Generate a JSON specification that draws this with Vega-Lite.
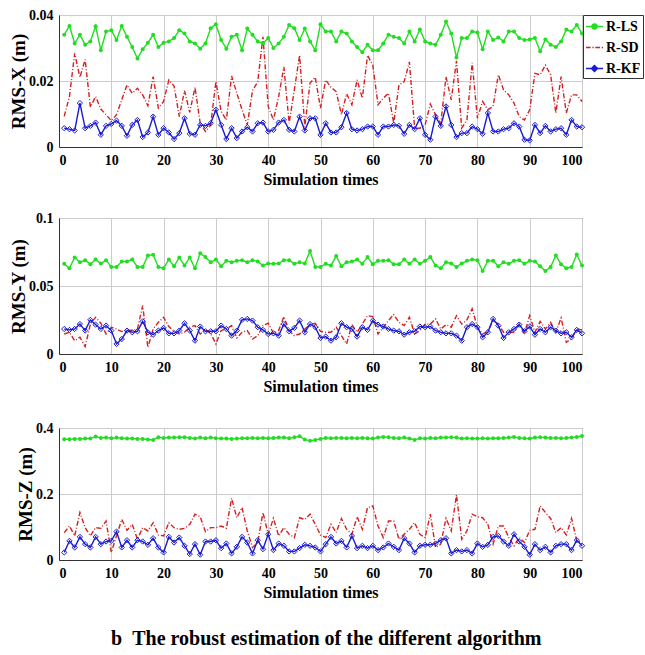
{
  "$schema": "https://vega.github.io/schema/vega-lite/v6.json",
  "padding": {"left": 9, "top": 7, "right": 2, "bottom": 5},
  "background": "white",
  "spacing": 22,
  "title": {"text": "b\u00a0\u00a0The robust estimation of the different algorithm", "orient": "bottom", "anchor": "middle", "font": "Liberation Serif", "fontWeight": "bold", "fontSize": 20, "color": "black", "offset": 28},
  "config": {
    "font": "Liberation Serif",
    "view": {"stroke": "#333333", "strokeWidth": 1},
    "axis": {"labelFont": "Liberation Serif", "labelFontWeight": "bold", "labelFontSize": 14, "labelColor": "black", "titleFont": "Liberation Serif", "titleFontWeight": "bold", "titleFontSize": 16, "titleColor": "black", "gridColor": "#cccccc", "gridWidth": 1, "domainColor": "#333333", "ticks": false, "labelPadding": 6},
    "axisY": {"titleFontSize": 19, "titlePadding": 0}
  },
  "datasets": {
    "X": [
      {"t":1,"R-LS":0.034,"R-SD":0.0093,"R-KF":0.0057},{"t":2,"R-LS":0.0367,"R-SD":0.0153,"R-KF":0.0054},{"t":3,"R-LS":0.0314,"R-SD":0.0284,"R-KF":0.005},{"t":4,"R-LS":0.034,"R-SD":0.0211,"R-KF":0.0133},{"t":5,"R-LS":0.031,"R-SD":0.0265,"R-KF":0.0057},
      {"t":6,"R-LS":0.032,"R-SD":0.0121,"R-KF":0.0064},{"t":7,"R-LS":0.0366,"R-SD":0.0153,"R-KF":0.0074},{"t":8,"R-LS":0.0293,"R-SD":0.0115,"R-KF":0.0037},{"t":9,"R-LS":0.035,"R-SD":0.0098,"R-KF":0.0064},{"t":10,"R-LS":0.0354,"R-SD":0.008,"R-KF":0.007},
      {"t":11,"R-LS":0.0324,"R-SD":0.0098,"R-KF":0.008},{"t":12,"R-LS":0.0367,"R-SD":0.0143,"R-KF":0.0064},{"t":13,"R-LS":0.0334,"R-SD":0.0188,"R-KF":0.0034},{"t":14,"R-LS":0.0303,"R-SD":0.0163,"R-KF":0.0067},{"t":15,"R-LS":0.0268,"R-SD":0.0178,"R-KF":0.0082},
      {"t":16,"R-LS":0.0296,"R-SD":0.0158,"R-KF":0.003},{"t":17,"R-LS":0.0316,"R-SD":0.0125,"R-KF":0.0044},{"t":18,"R-LS":0.034,"R-SD":0.0213,"R-KF":0.0092},{"t":19,"R-LS":0.0303,"R-SD":0.0118,"R-KF":0.0037},{"t":20,"R-LS":0.0316,"R-SD":0.0138,"R-KF":0.0057},
      {"t":21,"R-LS":0.032,"R-SD":0.0203,"R-KF":0.0044},{"t":22,"R-LS":0.033,"R-SD":0.0185,"R-KF":0.0024},{"t":23,"R-LS":0.0354,"R-SD":0.0092,"R-KF":0.0042},{"t":24,"R-LS":0.0344,"R-SD":0.0171,"R-KF":0.0087},{"t":25,"R-LS":0.032,"R-SD":0.0105,"R-KF":0.004},
      {"t":26,"R-LS":0.0314,"R-SD":0.0181,"R-KF":0.0037},{"t":27,"R-LS":0.0298,"R-SD":0.0072,"R-KF":0.0067},{"t":28,"R-LS":0.0314,"R-SD":0.0047,"R-KF":0.0064},{"t":29,"R-LS":0.036,"R-SD":0.0067,"R-KF":0.0072},{"t":30,"R-LS":0.0372,"R-SD":0.0198,"R-KF":0.0113},
      {"t":31,"R-LS":0.0324,"R-SD":0.0108,"R-KF":0.0067},{"t":32,"R-LS":0.0298,"R-SD":0.0082,"R-KF":0.0024},{"t":33,"R-LS":0.0334,"R-SD":0.0215,"R-KF":0.0057},{"t":34,"R-LS":0.034,"R-SD":0.0163,"R-KF":0.0027},{"t":35,"R-LS":0.0293,"R-SD":0.0113,"R-KF":0.0047},
      {"t":36,"R-LS":0.0359,"R-SD":0.0067,"R-KF":0.006},{"t":37,"R-LS":0.034,"R-SD":0.0171,"R-KF":0.0047},{"t":38,"R-LS":0.032,"R-SD":0.0198,"R-KF":0.0072},{"t":39,"R-LS":0.0314,"R-SD":0.0334,"R-KF":0.0074},{"t":40,"R-LS":0.033,"R-SD":0.0123,"R-KF":0.0047},
      {"t":41,"R-LS":0.030,"R-SD":0.0082,"R-KF":0.0052},{"t":42,"R-LS":0.0314,"R-SD":0.0153,"R-KF":0.0074},{"t":43,"R-LS":0.0334,"R-SD":0.0243,"R-KF":0.0082},{"t":44,"R-LS":0.037,"R-SD":0.0072,"R-KF":0.0052},{"t":45,"R-LS":0.036,"R-SD":0.0173,"R-KF":0.0047},
      {"t":46,"R-LS":0.0324,"R-SD":0.0278,"R-KF":0.0092},{"t":47,"R-LS":0.0359,"R-SD":0.0062,"R-KF":0.005},{"t":48,"R-LS":0.032,"R-SD":0.0194,"R-KF":0.0087},{"t":49,"R-LS":0.0293,"R-SD":0.0211,"R-KF":0.0087},{"t":50,"R-LS":0.0372,"R-SD":0.0118,"R-KF":0.0037},
      {"t":51,"R-LS":0.035,"R-SD":0.0203,"R-KF":0.0072},{"t":52,"R-LS":0.035,"R-SD":0.0181,"R-KF":0.0044},{"t":53,"R-LS":0.032,"R-SD":0.0168,"R-KF":0.0044},{"t":54,"R-LS":0.035,"R-SD":0.0098,"R-KF":0.006},{"t":55,"R-LS":0.0344,"R-SD":0.0161,"R-KF":0.0103},
      {"t":56,"R-LS":0.032,"R-SD":0.0128,"R-KF":0.0054},{"t":57,"R-LS":0.0303,"R-SD":0.0203,"R-KF":0.005},{"t":58,"R-LS":0.0287,"R-SD":0.0148,"R-KF":0.0054},{"t":59,"R-LS":0.031,"R-SD":0.0278,"R-KF":0.0062},{"t":60,"R-LS":0.0293,"R-SD":0.0248,"R-KF":0.0062},
      {"t":61,"R-LS":0.0293,"R-SD":0.0128,"R-KF":0.0037},{"t":62,"R-LS":0.0314,"R-SD":0.0148,"R-KF":0.0062},{"t":63,"R-LS":0.034,"R-SD":0.0163,"R-KF":0.0062},{"t":64,"R-LS":0.0334,"R-SD":0.0072,"R-KF":0.0067},{"t":65,"R-LS":0.033,"R-SD":0.0188,"R-KF":0.0064},
      {"t":66,"R-LS":0.0314,"R-SD":0.0198,"R-KF":0.004},{"t":67,"R-LS":0.035,"R-SD":0.0258,"R-KF":0.0067},{"t":68,"R-LS":0.032,"R-SD":0.0057,"R-KF":0.0054},{"t":69,"R-LS":0.0356,"R-SD":0.0057,"R-KF":0.0087},{"t":70,"R-LS":0.032,"R-SD":0.0067,"R-KF":0.0037},
      {"t":71,"R-LS":0.0314,"R-SD":0.013,"R-KF":0.0022},{"t":72,"R-LS":0.031,"R-SD":0.0098,"R-KF":0.0092},{"t":73,"R-LS":0.034,"R-SD":0.0072,"R-KF":0.0064},{"t":74,"R-LS":0.038,"R-SD":0.0213,"R-KF":0.0123},{"t":75,"R-LS":0.0344,"R-SD":0.0143,"R-KF":0.0067},
      {"t":76,"R-LS":0.0271,"R-SD":0.0261,"R-KF":0.003},{"t":77,"R-LS":0.033,"R-SD":0.0057,"R-KF":0.0042},{"t":78,"R-LS":0.033,"R-SD":0.0082,"R-KF":0.0042},{"t":79,"R-LS":0.035,"R-SD":0.0255,"R-KF":0.0062},{"t":80,"R-LS":0.0347,"R-SD":0.0087,"R-KF":0.0054},
      {"t":81,"R-LS":0.0296,"R-SD":0.0138,"R-KF":0.004},{"t":82,"R-LS":0.035,"R-SD":0.0113,"R-KF":0.0103},{"t":83,"R-LS":0.0324,"R-SD":0.0123,"R-KF":0.0047},{"t":84,"R-LS":0.0332,"R-SD":0.0219,"R-KF":0.0047},{"t":85,"R-LS":0.032,"R-SD":0.0173,"R-KF":0.0054},
      {"t":86,"R-LS":0.035,"R-SD":0.0158,"R-KF":0.0057},{"t":87,"R-LS":0.035,"R-SD":0.0133,"R-KF":0.0072},{"t":88,"R-LS":0.033,"R-SD":0.0092,"R-KF":0.0062},{"t":89,"R-LS":0.0324,"R-SD":0.0082,"R-KF":0.0022},{"t":90,"R-LS":0.0326,"R-SD":0.0113,"R-KF":0.002},
      {"t":91,"R-LS":0.033,"R-SD":0.0223,"R-KF":0.0067},{"t":92,"R-LS":0.029,"R-SD":0.0219,"R-KF":0.0042},{"t":93,"R-LS":0.0326,"R-SD":0.0248,"R-KF":0.0064},{"t":94,"R-LS":0.031,"R-SD":0.0219,"R-KF":0.0047},{"t":95,"R-LS":0.0303,"R-SD":0.0103,"R-KF":0.0054},
      {"t":96,"R-LS":0.032,"R-SD":0.0213,"R-KF":0.0057},{"t":97,"R-LS":0.0356,"R-SD":0.0103,"R-KF":0.0037},{"t":98,"R-LS":0.035,"R-SD":0.0158,"R-KF":0.0082},{"t":99,"R-LS":0.037,"R-SD":0.0158,"R-KF":0.0062},{"t":100,"R-LS":0.0344,"R-SD":0.0138,"R-KF":0.006}
    ],
    "Y": [
      {"t":1,"R-LS":0.0663,"R-SD":0.0147,"R-KF":0.0184},{"t":2,"R-LS":0.063,"R-SD":0.016,"R-KF":0.0177},{"t":3,"R-LS":0.071,"R-SD":0.0098,"R-KF":0.0184},{"t":4,"R-LS":0.0675,"R-SD":0.0123,"R-KF":0.022},{"t":5,"R-LS":0.069,"R-SD":0.0054,"R-KF":0.0172},
      {"t":6,"R-LS":0.066,"R-SD":0.022,"R-KF":0.0251},{"t":7,"R-LS":0.0695,"R-SD":0.027,"R-KF":0.0216},{"t":8,"R-LS":0.0665,"R-SD":0.0226,"R-KF":0.0184},{"t":9,"R-LS":0.069,"R-SD":0.0147,"R-KF":0.0209},{"t":10,"R-LS":0.064,"R-SD":0.0197,"R-KF":0.0172},
      {"t":11,"R-LS":0.064,"R-SD":0.0184,"R-KF":0.0074},{"t":12,"R-LS":0.068,"R-SD":0.0165,"R-KF":0.011},{"t":13,"R-LS":0.068,"R-SD":0.0177,"R-KF":0.0172},{"t":14,"R-LS":0.0695,"R-SD":0.0172,"R-KF":0.016},{"t":15,"R-LS":0.064,"R-SD":0.0184,"R-KF":0.0167},
      {"t":16,"R-LS":0.064,"R-SD":0.0356,"R-KF":0.024},{"t":17,"R-LS":0.0725,"R-SD":0.0049,"R-KF":0.016},{"t":18,"R-LS":0.073,"R-SD":0.0184,"R-KF":0.0142},{"t":19,"R-LS":0.064,"R-SD":0.0233,"R-KF":0.0172},{"t":20,"R-LS":0.063,"R-SD":0.027,"R-KF":0.0192},
      {"t":21,"R-LS":0.0695,"R-SD":0.0202,"R-KF":0.0152},{"t":22,"R-LS":0.0645,"R-SD":0.0167,"R-KF":0.0152},{"t":23,"R-LS":0.071,"R-SD":0.0147,"R-KF":0.0172},{"t":24,"R-LS":0.065,"R-SD":0.016,"R-KF":0.0226},{"t":25,"R-LS":0.071,"R-SD":0.0197,"R-KF":0.0172},
      {"t":26,"R-LS":0.063,"R-SD":0.0209,"R-KF":0.0098},{"t":27,"R-LS":0.074,"R-SD":0.0147,"R-KF":0.0202},{"t":28,"R-LS":0.0713,"R-SD":0.0177,"R-KF":0.0167},{"t":29,"R-LS":0.0675,"R-SD":0.0152,"R-KF":0.0167},{"t":30,"R-LS":0.0695,"R-SD":0.0074,"R-KF":0.0167},
      {"t":31,"R-LS":0.0645,"R-SD":0.0172,"R-KF":0.0209},{"t":32,"R-LS":0.0685,"R-SD":0.0184,"R-KF":0.0184},{"t":33,"R-LS":0.0675,"R-SD":0.0209,"R-KF":0.0135},{"t":34,"R-LS":0.0685,"R-SD":0.0118,"R-KF":0.0172},{"t":35,"R-LS":0.069,"R-SD":0.016,"R-KF":0.0251},
      {"t":36,"R-LS":0.0675,"R-SD":0.0172,"R-KF":0.0258},{"t":37,"R-LS":0.069,"R-SD":0.011,"R-KF":0.0246},{"t":38,"R-LS":0.068,"R-SD":0.0135,"R-KF":0.0197},{"t":39,"R-LS":0.065,"R-SD":0.0209,"R-KF":0.0177},{"t":40,"R-LS":0.0665,"R-SD":0.0226,"R-KF":0.0147},
      {"t":41,"R-LS":0.0663,"R-SD":0.0152,"R-KF":0.0152},{"t":42,"R-LS":0.0665,"R-SD":0.0172,"R-KF":0.0135},{"t":43,"R-LS":0.069,"R-SD":0.0275,"R-KF":0.022},{"t":44,"R-LS":0.069,"R-SD":0.0172,"R-KF":0.0167},{"t":45,"R-LS":0.0663,"R-SD":0.0135,"R-KF":0.0192},
      {"t":46,"R-LS":0.0675,"R-SD":0.0147,"R-KF":0.0246},{"t":47,"R-LS":0.0665,"R-SD":0.0184,"R-KF":0.016},{"t":48,"R-LS":0.0757,"R-SD":0.0216,"R-KF":0.022},{"t":49,"R-LS":0.064,"R-SD":0.0226,"R-KF":0.0197},{"t":50,"R-LS":0.064,"R-SD":0.0167,"R-KF":0.0118},
      {"t":51,"R-LS":0.0663,"R-SD":0.016,"R-KF":0.0128},{"t":52,"R-LS":0.065,"R-SD":0.016,"R-KF":0.0098},{"t":53,"R-LS":0.072,"R-SD":0.0197,"R-KF":0.0123},{"t":54,"R-LS":0.0645,"R-SD":0.0135,"R-KF":0.0226},{"t":55,"R-LS":0.0675,"R-SD":0.0074,"R-KF":0.0197},
      {"t":56,"R-LS":0.068,"R-SD":0.0216,"R-KF":0.0184},{"t":57,"R-LS":0.0695,"R-SD":0.016,"R-KF":0.0128},{"t":58,"R-LS":0.0663,"R-SD":0.022,"R-KF":0.0197},{"t":59,"R-LS":0.0713,"R-SD":0.0282,"R-KF":0.0177},{"t":60,"R-LS":0.066,"R-SD":0.0275,"R-KF":0.0246},
      {"t":61,"R-LS":0.0685,"R-SD":0.0147,"R-KF":0.0216},{"t":62,"R-LS":0.0685,"R-SD":0.0197,"R-KF":0.0202},{"t":63,"R-LS":0.069,"R-SD":0.0246,"R-KF":0.0184},{"t":64,"R-LS":0.066,"R-SD":0.029,"R-KF":0.0172},{"t":65,"R-LS":0.066,"R-SD":0.0233,"R-KF":0.0167},
      {"t":66,"R-LS":0.0695,"R-SD":0.0209,"R-KF":0.0142},{"t":67,"R-LS":0.0663,"R-SD":0.027,"R-KF":0.016},{"t":68,"R-LS":0.0695,"R-SD":0.0147,"R-KF":0.0167},{"t":69,"R-LS":0.0663,"R-SD":0.0172,"R-KF":0.0202},{"t":70,"R-LS":0.0685,"R-SD":0.022,"R-KF":0.0197},
      {"t":71,"R-LS":0.0713,"R-SD":0.022,"R-KF":0.0202},{"t":72,"R-LS":0.065,"R-SD":0.0258,"R-KF":0.0172},{"t":73,"R-LS":0.063,"R-SD":0.0184,"R-KF":0.016},{"t":74,"R-LS":0.0675,"R-SD":0.0216,"R-KF":0.0152},{"t":75,"R-LS":0.0665,"R-SD":0.0197,"R-KF":0.0152},
      {"t":76,"R-LS":0.064,"R-SD":0.0282,"R-KF":0.0135},{"t":77,"R-LS":0.0665,"R-SD":0.022,"R-KF":0.0098},{"t":78,"R-LS":0.0685,"R-SD":0.0251,"R-KF":0.0197},{"t":79,"R-LS":0.0695,"R-SD":0.0332,"R-KF":0.022},{"t":80,"R-LS":0.069,"R-SD":0.0197,"R-KF":0.0197},
      {"t":81,"R-LS":0.061,"R-SD":0.0147,"R-KF":0.0123},{"t":82,"R-LS":0.0685,"R-SD":0.0167,"R-KF":0.016},{"t":83,"R-LS":0.0685,"R-SD":0.0246,"R-KF":0.0258},{"t":84,"R-LS":0.0645,"R-SD":0.022,"R-KF":0.0209},{"t":85,"R-LS":0.0675,"R-SD":0.016,"R-KF":0.0118},
      {"t":86,"R-LS":0.0663,"R-SD":0.016,"R-KF":0.016},{"t":87,"R-LS":0.0685,"R-SD":0.016,"R-KF":0.0184},{"t":88,"R-LS":0.069,"R-SD":0.022,"R-KF":0.0216},{"t":89,"R-LS":0.0663,"R-SD":0.0152,"R-KF":0.0167},{"t":90,"R-LS":0.0685,"R-SD":0.0282,"R-KF":0.0202},
      {"t":91,"R-LS":0.068,"R-SD":0.016,"R-KF":0.0142},{"t":92,"R-LS":0.0645,"R-SD":0.024,"R-KF":0.0184},{"t":93,"R-LS":0.061,"R-SD":0.0184,"R-KF":0.016},{"t":94,"R-LS":0.064,"R-SD":0.0233,"R-KF":0.0197},{"t":95,"R-LS":0.0725,"R-SD":0.016,"R-KF":0.0172},
      {"t":96,"R-LS":0.066,"R-SD":0.0265,"R-KF":0.0152},{"t":97,"R-LS":0.063,"R-SD":0.0086,"R-KF":0.016},{"t":98,"R-LS":0.064,"R-SD":0.011,"R-KF":0.0123},{"t":99,"R-LS":0.0732,"R-SD":0.0184,"R-KF":0.0177},{"t":100,"R-LS":0.065,"R-SD":0.0177,"R-KF":0.0152}
    ],
    "Z": [
      {"t":1,"R-LS":0.366,"R-SD":0.083,"R-KF":0.023},{"t":2,"R-LS":0.366,"R-SD":0.103,"R-KF":0.058},{"t":3,"R-LS":0.367,"R-SD":0.073,"R-KF":0.038},{"t":4,"R-LS":0.367,"R-SD":0.144,"R-KF":0.07},{"t":5,"R-LS":0.368,"R-SD":0.098,"R-KF":0.048},
      {"t":6,"R-LS":0.368,"R-SD":0.073,"R-KF":0.038},{"t":7,"R-LS":0.374,"R-SD":0.098,"R-KF":0.07},{"t":8,"R-LS":0.370,"R-SD":0.096,"R-KF":0.048},{"t":9,"R-LS":0.371,"R-SD":0.118,"R-KF":0.056},{"t":10,"R-LS":0.369,"R-SD":0.023,"R-KF":0.058},
      {"t":11,"R-LS":0.371,"R-SD":0.073,"R-KF":0.086},{"t":12,"R-LS":0.369,"R-SD":0.123,"R-KF":0.038},{"t":13,"R-LS":0.368,"R-SD":0.09,"R-KF":0.06},{"t":14,"R-LS":0.368,"R-SD":0.108,"R-KF":0.038},{"t":15,"R-LS":0.367,"R-SD":0.063,"R-KF":0.06},
      {"t":16,"R-LS":0.367,"R-SD":0.098,"R-KF":0.056},{"t":17,"R-LS":0.365,"R-SD":0.088,"R-KF":0.046},{"t":18,"R-LS":0.364,"R-SD":0.113,"R-KF":0.066},{"t":19,"R-LS":0.372,"R-SD":0.076,"R-KF":0.038},{"t":20,"R-LS":0.370,"R-SD":0.073,"R-KF":0.023},
      {"t":21,"R-LS":0.371,"R-SD":0.113,"R-KF":0.07},{"t":22,"R-LS":0.371,"R-SD":0.098,"R-KF":0.053},{"t":23,"R-LS":0.372,"R-SD":0.093,"R-KF":0.068},{"t":24,"R-LS":0.372,"R-SD":0.096,"R-KF":0.043},{"t":25,"R-LS":0.370,"R-SD":0.108,"R-KF":0.018},
      {"t":26,"R-LS":0.368,"R-SD":0.139,"R-KF":0.048},{"t":27,"R-LS":0.371,"R-SD":0.131,"R-KF":0.016},{"t":28,"R-LS":0.369,"R-SD":0.086,"R-KF":0.056},{"t":29,"R-LS":0.371,"R-SD":0.098,"R-KF":0.056},{"t":30,"R-LS":0.369,"R-SD":0.098,"R-KF":0.06},
      {"t":31,"R-LS":0.368,"R-SD":0.103,"R-KF":0.036},{"t":32,"R-LS":0.368,"R-SD":0.096,"R-KF":0.05},{"t":33,"R-LS":0.367,"R-SD":0.187,"R-KF":0.02},{"t":34,"R-LS":0.368,"R-SD":0.128,"R-KF":0.04},{"t":35,"R-LS":0.369,"R-SD":0.159,"R-KF":0.07},
      {"t":36,"R-LS":0.369,"R-SD":0.088,"R-KF":0.053},{"t":37,"R-LS":0.370,"R-SD":0.038,"R-KF":0.02},{"t":38,"R-LS":0.369,"R-SD":0.053,"R-KF":0.06},{"t":39,"R-LS":0.370,"R-SD":0.144,"R-KF":0.033},{"t":40,"R-LS":0.369,"R-SD":0.078,"R-KF":0.078},
      {"t":41,"R-LS":0.370,"R-SD":0.126,"R-KF":0.03},{"t":42,"R-LS":0.371,"R-SD":0.073,"R-KF":0.05},{"t":43,"R-LS":0.371,"R-SD":0.098,"R-KF":0.043},{"t":44,"R-LS":0.369,"R-SD":0.078,"R-KF":0.026},{"t":45,"R-LS":0.372,"R-SD":0.068,"R-KF":0.026},
      {"t":46,"R-LS":0.375,"R-SD":0.128,"R-KF":0.036},{"t":47,"R-LS":0.365,"R-SD":0.123,"R-KF":0.046},{"t":48,"R-LS":0.361,"R-SD":0.139,"R-KF":0.043},{"t":49,"R-LS":0.364,"R-SD":0.108,"R-KF":0.038},{"t":50,"R-LS":0.367,"R-SD":0.076,"R-KF":0.026},
      {"t":51,"R-LS":0.370,"R-SD":0.068,"R-KF":0.048},{"t":52,"R-LS":0.369,"R-SD":0.108,"R-KF":0.07},{"t":53,"R-LS":0.370,"R-SD":0.083,"R-KF":0.05},{"t":54,"R-LS":0.370,"R-SD":0.126,"R-KF":0.058},{"t":55,"R-LS":0.369,"R-SD":0.093,"R-KF":0.038},
      {"t":56,"R-LS":0.370,"R-SD":0.078,"R-KF":0.073},{"t":57,"R-LS":0.369,"R-SD":0.131,"R-KF":0.036},{"t":58,"R-LS":0.370,"R-SD":0.093,"R-KF":0.043},{"t":59,"R-LS":0.369,"R-SD":0.159,"R-KF":0.036},{"t":60,"R-LS":0.368,"R-SD":0.164,"R-KF":0.043},
      {"t":61,"R-LS":0.371,"R-SD":0.103,"R-KF":0.03},{"t":62,"R-LS":0.373,"R-SD":0.068,"R-KF":0.038},{"t":63,"R-LS":0.372,"R-SD":0.118,"R-KF":0.05},{"t":64,"R-LS":0.370,"R-SD":0.118,"R-KF":0.04},{"t":65,"R-LS":0.369,"R-SD":0.063,"R-KF":0.03},
      {"t":66,"R-LS":0.371,"R-SD":0.078,"R-KF":0.066},{"t":67,"R-LS":0.368,"R-SD":0.093,"R-KF":0.05},{"t":68,"R-LS":0.364,"R-SD":0.113,"R-KF":0.023},{"t":69,"R-LS":0.369,"R-SD":0.078,"R-KF":0.043},{"t":70,"R-LS":0.368,"R-SD":0.068,"R-KF":0.046},
      {"t":71,"R-LS":0.370,"R-SD":0.139,"R-KF":0.046},{"t":72,"R-LS":0.369,"R-SD":0.038,"R-KF":0.05},{"t":73,"R-LS":0.371,"R-SD":0.048,"R-KF":0.06},{"t":74,"R-LS":0.371,"R-SD":0.126,"R-KF":0.066},{"t":75,"R-LS":0.372,"R-SD":0.088,"R-KF":0.02},
      {"t":76,"R-LS":0.371,"R-SD":0.198,"R-KF":0.03},{"t":77,"R-LS":0.368,"R-SD":0.063,"R-KF":0.026},{"t":78,"R-LS":0.369,"R-SD":0.088,"R-KF":0.03},{"t":79,"R-LS":0.368,"R-SD":0.139,"R-KF":0.02},{"t":80,"R-LS":0.368,"R-SD":0.131,"R-KF":0.05},
      {"t":81,"R-LS":0.369,"R-SD":0.128,"R-KF":0.04},{"t":82,"R-LS":0.368,"R-SD":0.108,"R-KF":0.046},{"t":83,"R-LS":0.369,"R-SD":0.048,"R-KF":0.07},{"t":84,"R-LS":0.369,"R-SD":0.103,"R-KF":0.073},{"t":85,"R-LS":0.370,"R-SD":0.103,"R-KF":0.056},
      {"t":86,"R-LS":0.371,"R-SD":0.068,"R-KF":0.043},{"t":87,"R-LS":0.373,"R-SD":0.043,"R-KF":0.078},{"t":88,"R-LS":0.370,"R-SD":0.068,"R-KF":0.056},{"t":89,"R-LS":0.369,"R-SD":0.053,"R-KF":0.04},{"t":90,"R-LS":0.368,"R-SD":0.09,"R-KF":0.016},
      {"t":91,"R-LS":0.371,"R-SD":0.093,"R-KF":0.048},{"t":92,"R-LS":0.372,"R-SD":0.164,"R-KF":0.03},{"t":93,"R-LS":0.371,"R-SD":0.144,"R-KF":0.04},{"t":94,"R-LS":0.370,"R-SD":0.126,"R-KF":0.023},{"t":95,"R-LS":0.370,"R-SD":0.083,"R-KF":0.043},
      {"t":96,"R-LS":0.369,"R-SD":0.098,"R-KF":0.048},{"t":97,"R-LS":0.370,"R-SD":0.076,"R-KF":0.048},{"t":98,"R-LS":0.371,"R-SD":0.126,"R-KF":0.03},{"t":99,"R-LS":0.373,"R-SD":0.058,"R-KF":0.06},{"t":100,"R-LS":0.376,"R-SD":0.053,"R-KF":0.043}
    ]
  },
  "vconcat": [
    {
      "data": {"name": "X"},
      "width": 523, "height": 132,
      "transform": [{"fold": ["R-LS", "R-SD", "R-KF"], "as": ["series", "v"]}],
      "encoding": {
        "x": {"field": "t", "type": "quantitative", "scale": {"domain": [0, 100], "nice": false}, "axis": {"title": "Simulation times", "values": [0,10,20,30,40,50,60,70,80,90,100], "grid": true}},
        "y": {"field": "v", "type": "quantitative", "scale": {"domain": [0, 0.04], "nice": false}, "axis": {"title": "RMS-X (m)", "values": [0, 0.02, 0.04], "format": "~g", "grid": true}},
        "color": {"field": "series", "type": "nominal", "scale": {"domain": ["R-LS", "R-SD", "R-KF"], "range": ["#22dd22", "#d42020", "#1a1ad0"]},
          "legend": {"title": null, "orient": "right", "offset": -5, "strokeColor": "#333333", "padding": 2, "symbolSize": 289, "labelFont": "Liberation Serif", "labelFontWeight": "bold", "labelFontSize": 14, "labelColor": "black", "labelOffset": 2, "rowPadding": 4, "symbolStrokeWidth": 1.5,
            "encode": {"symbols": {"update": {
              "shape": {"signal": "datum.value === 'R-LS' ? 'M-1,0H1M-0.3,0A0.3,0.3 0 1,1 0.3,0A0.3,0.3 0 1,1 -0.3,0Z' : datum.value === 'R-SD' ? 'M-1,0H-0.45M-0.25,0H-0.1M0.1,0H0.65M0.85,0H1' : 'M-1,0H-0.35M0.35,0H1M0,-0.35L0.35,0L0,0.35L-0.35,0Z'"},
              "fill": {"signal": "datum.value === 'R-LS' ? '#22dd22' : 'transparent'"},
              "stroke": {"signal": "scale('color', datum.value)"},
              "strokeWidth": {"value": 1.5}
            }}}}}
      },
      "layer": [
        {"mark": {"type": "line", "strokeWidth": 1.4}, "encoding": {"strokeDash": {"field": "series", "type": "nominal", "scale": {"domain": ["R-LS", "R-SD", "R-KF"], "range": [[1, 0], [5, 2, 1, 2], [1, 0]]}, "legend": null}}},
        {"transform": [{"filter": "datum.series === 'R-LS'"}], "mark": {"type": "point", "shape": "circle", "filled": true, "size": 16, "opacity": 1}},
        {"transform": [{"filter": "datum.series === 'R-KF'"}], "mark": {"type": "point", "shape": "diamond", "filled": false, "size": 28, "strokeWidth": 1, "opacity": 1}}
      ]
    },
    {
      "spacing": 25,
      "vconcat": [
        {
          "data": {"name": "Y"},
          "width": 523, "height": 136,
          "transform": [{"fold": ["R-LS", "R-SD", "R-KF"], "as": ["series", "v"]}],
          "encoding": {
            "x": {"field": "t", "type": "quantitative", "scale": {"domain": [0, 100], "nice": false}, "axis": {"title": "Simulation times", "values": [0,10,20,30,40,50,60,70,80,90,100], "grid": true}},
            "y": {"field": "v", "type": "quantitative", "scale": {"domain": [0, 0.1], "nice": false}, "axis": {"title": "RMS-Y (m)", "values": [0, 0.05, 0.1], "format": "~g", "grid": true}},
            "color": {"field": "series", "type": "nominal", "scale": {"domain": ["R-LS", "R-SD", "R-KF"], "range": ["#22dd22", "#d42020", "#1a1ad0"]}, "legend": null}
          },
          "layer": [
            {"mark": {"type": "line", "strokeWidth": 1.4}, "encoding": {"strokeDash": {"field": "series", "type": "nominal", "scale": {"domain": ["R-LS", "R-SD", "R-KF"], "range": [[1, 0], [5, 2, 1, 2], [1, 0]]}, "legend": null}}},
            {"transform": [{"filter": "datum.series === 'R-LS'"}], "mark": {"type": "point", "shape": "circle", "filled": true, "size": 16, "opacity": 1}},
            {"transform": [{"filter": "datum.series === 'R-KF'"}], "mark": {"type": "point", "shape": "diamond", "filled": false, "size": 28, "strokeWidth": 1, "opacity": 1}}
          ]
        },
        {
          "data": {"name": "Z"},
          "width": 523, "height": 132,
          "transform": [{"fold": ["R-LS", "R-SD", "R-KF"], "as": ["series", "v"]}],
          "encoding": {
            "x": {"field": "t", "type": "quantitative", "scale": {"domain": [0, 100], "nice": false}, "axis": {"title": "Simulation times", "values": [0,10,20,30,40,50,60,70,80,90,100], "grid": true}},
            "y": {"field": "v", "type": "quantitative", "scale": {"domain": [0, 0.4], "nice": false}, "axis": {"title": "RMS-Z (m)", "values": [0, 0.2, 0.4], "format": "~g", "grid": true}},
            "color": {"field": "series", "type": "nominal", "scale": {"domain": ["R-LS", "R-SD", "R-KF"], "range": ["#22dd22", "#d42020", "#1a1ad0"]}, "legend": null}
          },
          "layer": [
            {"mark": {"type": "line", "strokeWidth": 1.4}, "encoding": {"strokeDash": {"field": "series", "type": "nominal", "scale": {"domain": ["R-LS", "R-SD", "R-KF"], "range": [[1, 0], [5, 2, 1, 2], [1, 0]]}, "legend": null}}},
            {"transform": [{"filter": "datum.series === 'R-LS'"}], "mark": {"type": "point", "shape": "circle", "filled": true, "size": 16, "opacity": 1}},
            {"transform": [{"filter": "datum.series === 'R-KF'"}], "mark": {"type": "point", "shape": "diamond", "filled": false, "size": 28, "strokeWidth": 1, "opacity": 1}}
          ]
        }
      ]
    }
  ]
}
